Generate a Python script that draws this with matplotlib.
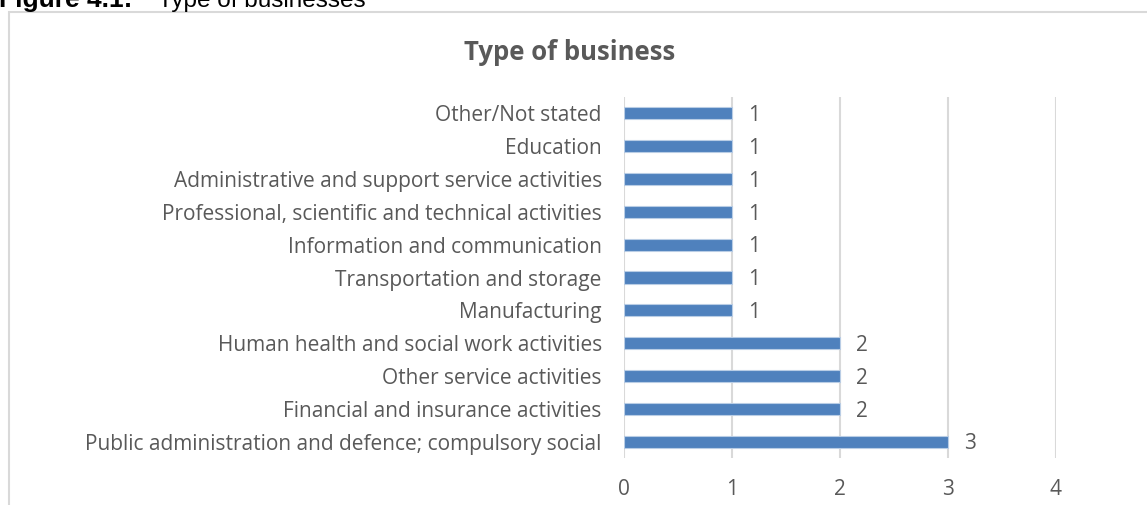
import matplotlib.pyplot as plt
from matplotlib.patches import Rectangle

# business categories, listed bottom to top
categories = [
    "Public administration and defence; compulsory social",
    "Financial and insurance activities",
    "Other service activities",
    "Human health and social work activities",
    "Manufacturing",
    "Transportation and storage",
    "Information and communication",
    "Professional, scientific and technical activities",
    "Administrative and support service activities",
    "Education",
    "Other/Not stated",
]
counts = [3, 2, 2, 2, 1, 1, 1, 1, 1, 1, 1]
x_ticks = [0, 1, 2, 3, 4]

plt.rcParams["font.family"] = ["Open Sans", "DejaVu Sans"]
grey = "#595959"
bar_colour = "#4F81BD"

fig = plt.figure(figsize=(11.47, 5.05), dpi=100)
ax = fig.add_axes([624 / 1147, 1 - 458 / 505, 432 / 1147, 361 / 505])

ypos = range(len(categories))
ax.barh(ypos, counts, height=0.37, color=bar_colour, edgecolor="#b9cde5", linewidth=0.8, zorder=3)
for y, v in zip(ypos, counts):
    ax.text(v + 0.15, y - 0.07, str(v), va="center", ha="left", fontsize=15, color=grey)

ax.set_xlim(0, 4)
ax.set_ylim(-0.5, len(categories) - 0.5)
ax.set_xticks(x_ticks)
ax.set_xticklabels([str(t) for t in x_ticks])
ax.set_yticks(list(ypos))
ax.set_yticklabels(categories)
ax.tick_params(axis="both", length=0, labelsize=15, colors=grey)
ax.tick_params(axis="y", pad=16)
ax.tick_params(axis="x", pad=15)
ax.grid(axis="x", color="#d9d9d9", linewidth=1.5, zorder=0)
for s in ax.spines.values():
    s.set_visible(False)

fig.text(570 / 1147, 1 - 52 / 505, "Type of business", ha="center", va="center",
         fontsize=18.5, fontweight="bold", color=grey)

# chart frame running off the right and bottom edges
fig.patches.append(Rectangle((9 / 1147, -0.1), 1.1, 1.1 - 12 / 505,
                             transform=fig.transFigure, fill=False,
                             edgecolor="#d9d9d9", linewidth=1.5))

# figure caption, cropped at the top
fig.text(-0.001, 1 - 7 / 505, "Figure 4.1:", ha="left", va="baseline",
         fontsize=19, fontweight="bold", color="black", family=["Liberation Sans"])
fig.text(158 / 1147, 1 - 7 / 505, "Type of businesses", ha="left", va="baseline",
         fontsize=17.5, color="black", family=["Liberation Sans"])

fig.savefig("out.png", dpi=100)
